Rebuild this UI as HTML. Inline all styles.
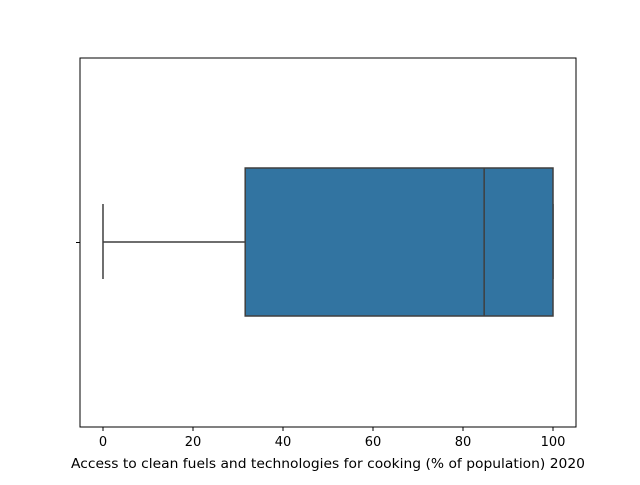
<!DOCTYPE html>
<html><head><meta charset="utf-8"><style>
body{margin:0;background:#fff;}
svg text{font-family:"DejaVu Sans","Liberation Sans",sans-serif;font-size:13px;fill:#000;}
</style></head><body>
<svg id="chart" width="640" height="480" xmlns="http://www.w3.org/2000/svg">
<rect x="80" y="58" width="496" height="369" fill="#fff" stroke="#000" stroke-width="1"/>
<g id="marks"></g>
<g id="ticks"></g>
<line x1="76" y1="242.5" x2="80" y2="242.5" stroke="#000"/>
<text x="328" y="468" text-anchor="middle" textLength="514" lengthAdjust="spacingAndGlyphs">Access to clean fuels and technologies for cooking (% of population) 2020</text>
</svg>
<script>
const stats = ["min","q1","median","q3","max"];
const values = [0, 31.6, 84.7, 100, 100];
const tickValues = [0, 20, 40, 60, 80, 100];
const tickLabels = ["0","20","40","60","80","100"];
const xMin = -5.11, xMax = 105.11;
const L = 80, R = 576;
function x(v){ return L + (v - xMin) / (xMax - xMin) * (R - L); }
const ns = "http://www.w3.org/2000/svg";
function mk(tag, attrs, parent){ const e = document.createElementNS(ns, tag); for (const k in attrs) e.setAttribute(k, attrs[k]); parent.appendChild(e); return e; }
const marks = document.getElementById('marks');
const [mn, q1, med, q3, mx] = values;
const c = "#3f3f3f";
const w1 = mk('line', {x1:x(mn), y1:242, x2:x(q1), y2:242, stroke:c, 'stroke-width':1.5}, marks);


const w2 = mk('line', {x1:x(q3), y1:242, x2:x(mx), y2:242, stroke:c, 'stroke-width':1.5}, marks);


const cap1 = mk('line', {x1:x(mn), y1:204, x2:x(mn), y2:279, stroke:c, 'stroke-width':1.5}, marks);


const cap2 = mk('line', {x1:x(mx), y1:204, x2:x(mx), y2:279, stroke:c, 'stroke-width':1.5}, marks);


const box = mk('rect', {x:x(q1), y:168, width:x(q3)-x(q1), height:148, fill:"#3274a1", stroke:c, 'stroke-width':1.5}, marks);


const m = mk('line', {x1:x(med), y1:168, x2:x(med), y2:316, stroke:c, 'stroke-width':1.5}, marks);


const ticks = document.getElementById('ticks');
tickValues.forEach((v, i) => {
  const t = mk('line', {x1:x(v), y1:427, x2:x(v), y2:431, stroke:"#000"}, ticks);
  
  
  const tx = mk('text', {x:x(v), y:446, 'text-anchor':'middle'}, ticks);
  tx.textContent = tickLabels[i];
  
  
});
</script>
</body></html>
